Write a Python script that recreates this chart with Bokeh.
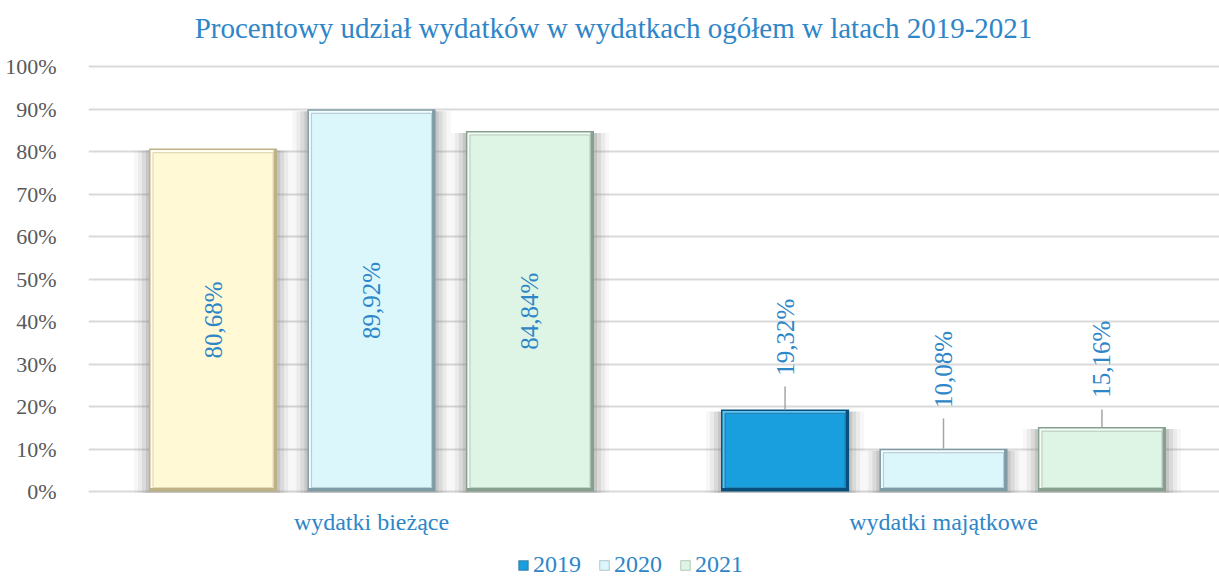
from bokeh.plotting import figure
from bokeh.models import Range1d, FixedTicker, Label, Legend, LegendItem, ColumnDataSource
from bokeh.core.properties import value
from bokeh.embed import file_html
from bokeh.resources import INLINE

# ---------------- data ----------------
categories = ["wydatki bieżące", "wydatki majątkowe"]
years = ["2019", "2020", "2021"]
share_2019 = [80.68, 19.32]
share_2020 = [89.92, 10.08]
share_2021 = [84.84, 15.16]
label_2019 = ["80,68%", "19,32%"]
label_2020 = ["89,92%", "10,08%"]
label_2021 = ["84,84%", "15,16%"]
y_ticks = [0, 10, 20, 30, 40, 50, 60, 70, 80, 90, 100]
title_text = "Procentowy udział wydatków w wydatkach ogółem w latach 2019-2021"

# ---------------- styles / layout ----------------
fills = {
    "2019": ["#FFF9D6", "#1A9FDE"],
    "2020": ["#DBF7FC", "#DBF7FC"],
    "2021": ["#DEF5E5", "#DEF5E5"],
}
edges = {
    "2019": ["#BFB186", "#08507A"],
    "2020": ["#7F9BA6", "#7F9BA6"],
    "2021": ["#869F8E", "#869F8E"],
}
highlights = {
    "2019": ["#FFFDF0", "#5CC3F0"],
    "2020": ["#F4FDFF", "#F4FDFF"],
    "2021": ["#F5FDF8", "#F5FDF8"],
}
offsets = {"2019": -0.277, "2020": 0.0, "2021": 0.277}
bar_w = 0.224
# label positions (layout) for the "majątkowe" group: label centre and leader-line top
lab_center_capital = {"2019": 36.3, "2020": 28.7, "2021": 31.1}
leader_top_capital = {"2019": 24.7, "2020": 17.2, "2021": 19.3}

BLUE = "#2E86C8"
GREY = "#595959"
SERIF = "Liberation Serif"

W, H = 1219, 579
LEFT = 88                          # canvas px of the plot area's left edge
PX_PER_X = 572.0
PX_PER_Y = 4.25
ZERO_Y = 491                       # canvas px of the 0% line
CAT0_X = 371                       # canvas px of the first category centre
px_x = 1.0 / PX_PER_X
px_y = 1.0 / PX_PER_Y
X_START = -(CAT0_X - LEFT) * px_x
X_END = X_START + (W - LEFT) * px_x
Y_TOP = ZERO_Y * px_y
Y_BOTTOM = -(H - ZERO_Y) * px_y

p = figure(width=W, height=H,
           x_range=Range1d(X_START, X_END), y_range=Range1d(Y_BOTTOM, Y_TOP),
           output_backend="svg", toolbar_location=None, x_axis_location=None,
           min_border_left=LEFT, min_border_right=0,
           min_border_top=0, min_border_bottom=0)
p.outline_line_color = None
p.background_fill_color = "white"
p.border_fill_color = "white"

p.xgrid.grid_line_color = None
p.ygrid.grid_line_color = "#D9D9D9"
p.ygrid.grid_line_width = 2
p.ygrid.ticker = FixedTicker(ticks=y_ticks)

p.yaxis.ticker = FixedTicker(ticks=y_ticks)
p.yaxis.major_label_overrides = {t: f"{t}%" for t in y_ticks}
p.yaxis.major_label_text_font = SERIF
p.yaxis.major_label_text_font_size = "22px"
p.yaxis.major_label_text_color = GREY
p.yaxis.major_label_standoff = 26
p.yaxis.axis_line_color = None
p.yaxis.major_tick_line_color = None
p.yaxis.minor_tick_line_color = None

cat_x = [0, 1]
legend_items = []
series = {"2019": share_2019, "2020": share_2020, "2021": share_2021}
texts = {"2019": label_2019, "2020": label_2020, "2021": label_2021}

for yr in years:
    vals = series[yr]
    xs = [c + offsets[yr] for c in cat_x]
    left = [x - bar_w / 2 for x in xs]
    right = [x + bar_w / 2 for x in xs]
    # soft shadow
    for spread, alpha in ((15, 0.06), (11, 0.09), (7, 0.14), (3, 0.2)):
        p.quad(left=[l - spread * px_x for l in left], right=[r + spread * px_x for r in right],
               bottom=[-0.3] * 2, top=[v - 2 * px_y for v in vals],
               fill_color="#777777", fill_alpha=alpha, line_color=None)
    # outer edge (dark bevel)
    p.quad(left=left, right=right, bottom=[0] * 2, top=vals,
           fill_color=edges[yr], line_color=None)
    # highlight (top-left bevel)
    p.quad(left=[l + 1.5 * px_x for l in left], right=[r - 3.5 * px_x for r in right],
           bottom=[3.5 * px_y] * 2, top=[v - 1.5 * px_y for v in vals],
           fill_color=highlights[yr], line_color=None)
    # face (inner bevel line in the edge colour)
    src = ColumnDataSource(dict(left=[l + 4 * px_x for l in left],
                                right=[r - 4 * px_x for r in right],
                                bottom=[4 * px_y] * 2,
                                top=[v - 4 * px_y for v in vals],
                                color=fills[yr], edge=edges[yr]))
    face = p.quad(left="left", right="right", bottom="bottom", top="top",
                  fill_color="color", line_color="edge", line_alpha=0.45,
                  line_width=1.2, source=src)
    legend_items.append(LegendItem(label=yr, renderers=[face], index=1))

    # data labels
    lab_y = [vals[0] / 2, lab_center_capital[yr]]
    p.text(x=xs, y=lab_y, text=texts[yr], angle=1.5707963,
           text_align="center", text_baseline="middle",
           text_font=value(SERIF), text_font_size="25px", text_color=BLUE)
    # leader line for the capital-expenditure label
    p.segment(x0=[xs[1]], y0=[vals[1]], x1=[xs[1]], y1=[leader_top_capital[yr]],
              line_color="#A6A6A6", line_width=1.5)

# category labels (under the 0% line)
p.text(x=cat_x, y=[-30 * px_y] * 2, text=categories,
       text_align="center", text_baseline="middle",
       text_font=value(SERIF), text_font_size="24px", text_color=BLUE)

legend = Legend(items=legend_items, orientation="horizontal",
                location=(517 - LEFT, 1),
                glyph_width=12, glyph_height=12, label_standoff=4, spacing=17,
                padding=0, margin=0,
                label_text_font=SERIF, label_text_font_size="24px",
                label_text_color=BLUE,
                border_line_color=None, background_fill_alpha=0)
p.add_layout(legend, "center")

title = Label(x=(613 - CAT0_X) * px_x, y=(ZERO_Y - 27) * px_y, text=title_text,
              text_align="center", text_baseline="middle",
              text_font=SERIF, text_font_size="29px", text_color=BLUE)
p.add_layout(title)

open("out.html", "w").write(file_html(p, INLINE))
